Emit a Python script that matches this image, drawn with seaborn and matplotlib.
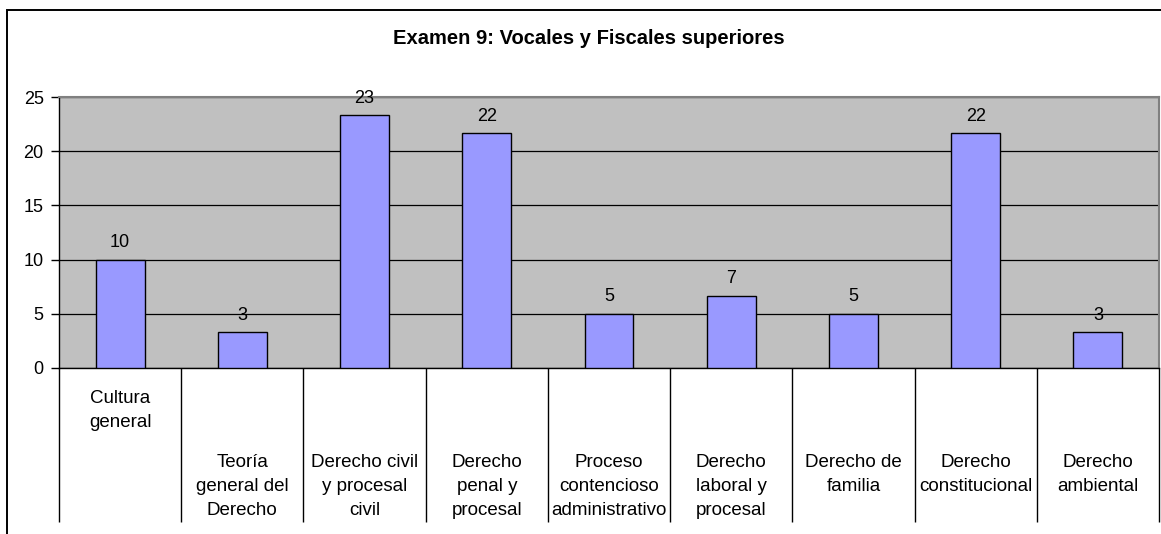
import matplotlib
matplotlib.use("Agg")
from matplotlib import pyplot as plt
from matplotlib.patches import Rectangle
import seaborn as sns
import pandas as pd

# datos del grafico
categorias = ["Cultura\ngeneral", "Teoría\ngeneral del\nDerecho",
              "Derecho civil\ny procesal\ncivil", "Derecho\npenal y\nprocesal",
              "Proceso\ncontencioso\nadministrativo", "Derecho\nlaboral y\nprocesal",
              "Derecho de\nfamilia", "Derecho\nconstitucional", "Derecho\nambiental"]
valores = [10, 3.33, 23.33, 21.67, 5, 6.67, 5, 21.67, 3.33]
yticks = [0, 5, 10, 15, 20, 25]
titulo = "Examen 9: Vocales y Fiscales superiores"

sns.set_style("white")
plt.rcParams["font.family"] = ["Liberation Sans", "DejaVu Sans"]
plt.rcParams["text.color"] = "black"
plt.rcParams["ytick.color"] = "black"
plt.rcParams["ytick.labelcolor"] = "black"

W, H = 1161, 534
fig = plt.figure(figsize=(W / 100, H / 100), dpi=100)
ax = fig.add_axes([59 / W, (H - 368) / H, 1100 / W, 271 / H])

df = pd.DataFrame({"cat": categorias, "val": valores})
sns.barplot(data=df, x="cat", y="val", color="#9999FF", saturation=1,
            edgecolor="black", linewidth=1, width=0.4, ax=ax, zorder=3)
ax.bar_label(ax.containers[0], fmt="%.0f", padding=6, fontsize=13,
             color="black", zorder=4)

ax.set_facecolor("#C0C0C0")
ax.set_ylim(0, 25)
ax.set_xlim(-0.5, len(categorias) - 0.5)
ax.set_yticks(yticks)
ax.yaxis.grid(True, color="black", lw=0.9)
ax.set_axisbelow(True)
ax.tick_params(axis="y", labelsize=13, length=6, width=1, color="black",
               labelcolor="black", direction="out", left=True, pad=5)
ax.set_xlabel("")
ax.set_ylabel("")

# separadores de categorias como ticks menores largos
ax.set_xticks(range(len(categorias)))
ax.set_xticklabels([])
ax.tick_params(axis="x", which="major", length=0)
ax.set_xticks([i - 0.5 for i in range(len(categorias) + 1)], minor=True)
ax.tick_params(axis="x", which="minor", length=111, width=1,
               color="black", direction="out", bottom=True)

for i, lab in enumerate(categorias):
    off = 16 if i == 0 else 62
    ax.annotate(lab, xy=(i, 0), xycoords=ax.get_xaxis_transform(),
                xytext=(0, -off), textcoords="offset points",
                ha="center", va="top", fontsize=13.5, linespacing=1.52,
                color="black", annotation_clip=False)

for s in ["left", "bottom"]:
    ax.spines[s].set_color("black")
    ax.spines[s].set_linewidth(1)
for s in ["top", "right"]:
    ax.spines[s].set_color("#808080")
    ax.spines[s].set_linewidth(1.5)

fig.text(589 / W, 1 - 38 / H, titulo, ha="center", va="center",
         fontsize=14.5, fontweight="bold", color="black")

# marco exterior del grafico (cortado a la derecha y abajo)
fig.patches.append(Rectangle((7 / W, -0.1), 2, 1.1 - 10 / H, fill=False,
                             lw=1.4, edgecolor="black",
                             transform=fig.transFigure))

plt.savefig("out.png", dpi=100)
